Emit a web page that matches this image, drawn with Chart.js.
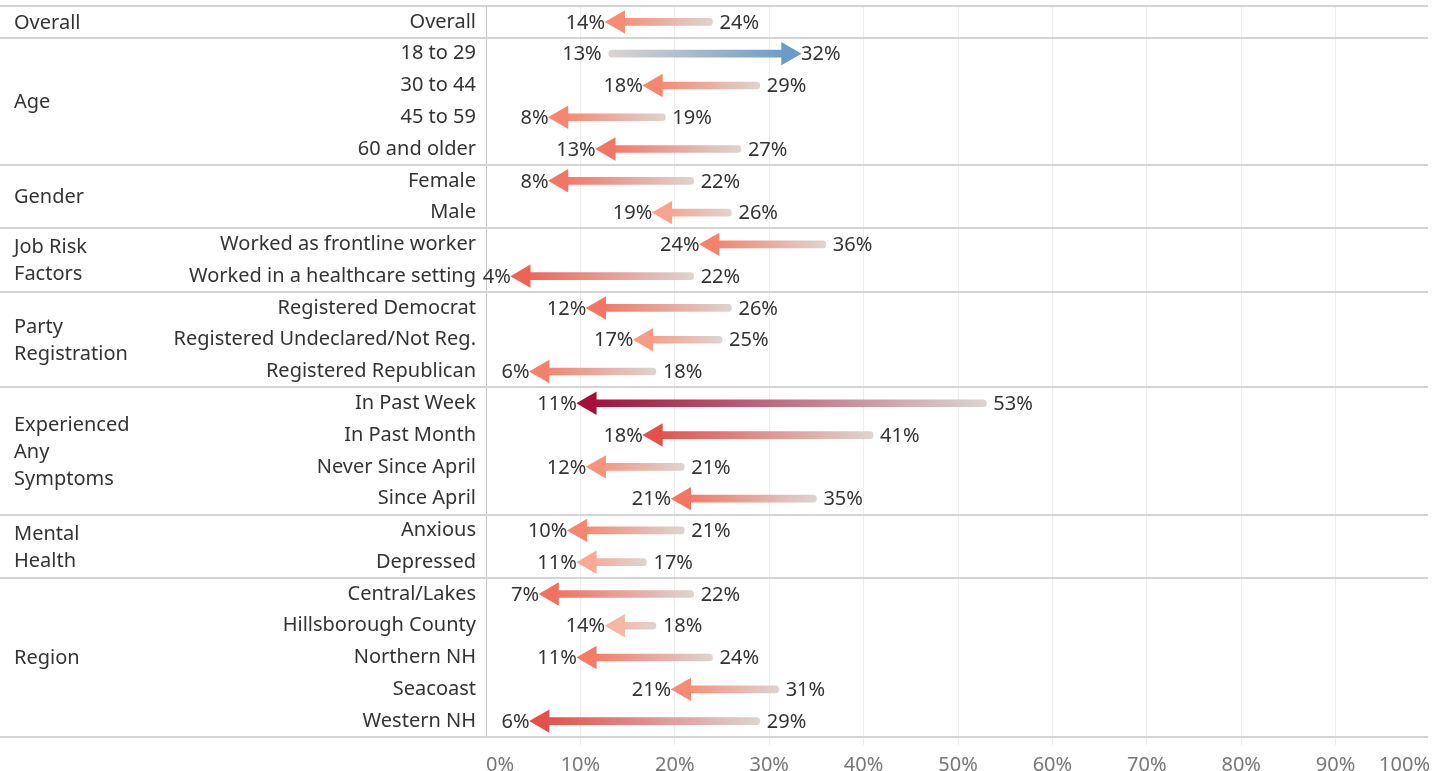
<!DOCTYPE html>
<html lang="en">

<head>
    <meta charset="UTF-8">
    <title>Change by group</title>
    <script src="https://cdn.jsdelivr.net/npm/chart.js"></script>
    <style>
        body { margin: 0; background: #fff; }
        .wrap { width: 1440px; height: 771px; }
    </style>
</head>

<body>
    <div class="wrap">
        <canvas id="arrowChart"></canvas>
    </div>

    <script>
        // rows (y axis)
        const rows = ['Overall', '18 to 29', '30 to 44', '45 to 59', '60 and older', 'Female', 'Male',
            'Worked as frontline worker', 'Worked in a healthcare setting',
            'Registered Democrat', 'Registered Undeclared/Not Reg.', 'Registered Republican',
            'In Past Week', 'In Past Month', 'Never Since April', 'Since April',
            'Anxious', 'Depressed',
            'Central/Lakes', 'Hillsborough County', 'Northern NH', 'Seacoast', 'Western NH'];

        // groups: name lines, first row, last row
        const groupNames = [['Overall'], ['Age'], ['Gender'], ['Job Risk', 'Factors'], ['Party', 'Registration'],
            ['Experienced', 'Any', 'Symptoms'], ['Mental', 'Health'], ['Region']];
        const groupStart = [0, 1, 5, 7, 9, 12, 16, 18];
        const groupEnd = [0, 4, 6, 8, 11, 15, 17, 22];

        // values (share of respondents)
        const before = [0.24, 0.13, 0.29, 0.19, 0.27, 0.22, 0.26, 0.36, 0.22, 0.26, 0.25, 0.18,
            0.53, 0.41, 0.21, 0.35, 0.21, 0.17, 0.22, 0.18, 0.24, 0.31, 0.29];
        const after = [0.14, 0.32, 0.18, 0.08, 0.13, 0.08, 0.19, 0.24, 0.04, 0.12, 0.17, 0.06,
            0.11, 0.18, 0.12, 0.21, 0.10, 0.11, 0.07, 0.14, 0.11, 0.21, 0.06];

        const xTicks = [0, 0.1, 0.2, 0.3, 0.4, 0.5, 0.6, 0.7, 0.8, 0.9, 1];

        const FONT = '"Noto Sans", sans-serif';
        const FS = 20;
        const startGrey = '#ddd4d1';

        // diverging colour by change (percentage points)
        const redStops = [[0, [221, 212, 209]], [-5, [252, 176, 157]], [-10, [247, 140, 116]], [-15, [241, 112, 95]],
            [-20, [235, 90, 80]], [-25, [224, 72, 72]], [-42, [165, 15, 58]]];
        function changeColor(i) {
            const d = Math.round((after[i] - before[i]) * 100);
            if (d > 0) return '#6b9cc7';
            for (let k = 1; k < redStops.length; k++) {
                const [d0, c0] = redStops[k - 1], [d1, c1] = redStops[k];
                if (d >= d1) {
                    const t = (d - d0) / (d1 - d0);
                    const c = c0.map((v, j) => Math.round(v + (c1[j] - v) * t));
                    return 'rgb(' + c.join(',') + ')';
                }
            }
            return 'rgb(165,15,58)';
        }

        const pct = v => Math.round(v * 100) + '%';

        const decorations = {
            id: 'decorations',
            beforeDatasetsDraw(chart) {
                const { ctx, scales: { y } } = chart;
                ctx.save();
                ctx.strokeStyle = '#d4d4d4';
                ctx.lineWidth = 2;
                const half = (y.getPixelForValue(1) - y.getPixelForValue(0)) / 2;
                groupStart.forEach((s, g) => {
                    const yy = Math.round(y.getPixelForValue(s) - half);
                    ctx.beginPath(); ctx.moveTo(0, yy); ctx.lineTo(1428, yy); ctx.stroke();
                });
                const yb = Math.round(y.getPixelForValue(rows.length - 1) + half);
                ctx.beginPath(); ctx.moveTo(0, yb); ctx.lineTo(1428, yb); ctx.stroke();
                ctx.restore();
            },
            afterDatasetsDraw(chart) {
                const { ctx, scales: { x, y } } = chart;
                ctx.save();
                ctx.font = FS + 'px ' + FONT;
                ctx.fillStyle = '#333';
                ctx.textBaseline = 'middle';
                // value labels
                rows.forEach((r, i) => {
                    const yy = y.getPixelForValue(i) + 1;
                    const x0 = x.getPixelForValue(before[i]);
                    const x1 = x.getPixelForValue(after[i]);
                    const down = after[i] < before[i];
                    ctx.textAlign = down ? 'left' : 'right';
                    ctx.fillText(pct(before[i]), x0 + (down ? 7 : -7), yy);
                    ctx.textAlign = down ? 'right' : 'left';
                    ctx.fillText(pct(after[i]), x1 + (down ? -13 : 13), yy);
                });
                // group labels
                ctx.textAlign = 'left';
                groupNames.forEach((lines, g) => {
                    const mid = (y.getPixelForValue(groupStart[g]) + y.getPixelForValue(groupEnd[g])) / 2;
                    const lh = 27;
                    lines.forEach((t, k) => {
                        ctx.fillText(t, 14, mid + (k - (lines.length - 1) / 2) * lh + 1);
                    });
                });
                ctx.restore();
            }
        };

        new Chart(document.getElementById('arrowChart'), {
            type: 'bar',
            data: {
                labels: rows,
                datasets: [{
                    type: 'bar',
                    indexAxis: 'y',
                    order: 2,
                    data: rows.map((r, i) => [before[i], after[i]]),
                    barThickness: 7,
                    borderRadius: 3.5,
                    borderSkipped: false,
                    backgroundColor: function (c) {
                        const chart = c.chart;
                        if (c.dataIndex === undefined || !chart.chartArea) return startGrey;
                        const x = chart.scales.x;
                        const x0 = x.getPixelForValue(before[c.dataIndex]);
                        const x1 = x.getPixelForValue(after[c.dataIndex]);
                        const g = chart.ctx.createLinearGradient(x0, 0, x1, 0);
                        g.addColorStop(0, startGrey);
                        g.addColorStop(1, changeColor(c.dataIndex));
                        return g;
                    }
                }, {
                    type: 'line',
                    indexAxis: 'y',
                    order: 1,
                    data: after,
                    showLine: false,
                    pointStyle: 'triangle',
                    pointRadius: 13.5,
                    pointBorderWidth: 0,
                    pointBorderColor: 'rgba(0,0,0,0)',
                    pointRotation: c => (after[c.dataIndex] < before[c.dataIndex] ? -90 : 90),
                    pointBackgroundColor: c => changeColor(c.dataIndex)
                }]
            },
            options: {
                indexAxis: 'y',
                responsive: true,
                maintainAspectRatio: false,
                animation: false,
                layout: { autoPadding: false, padding: { top: 6, right: 10, left: 0, bottom: 0 } },
                plugins: {
                    legend: { display: false },
                    tooltip: { enabled: false }
                },
                scales: {
                    x: {
                        type: 'linear',
                        min: 0,
                        max: 1,
                        afterBuildTicks: s => { s.ticks = xTicks.map(v => ({ value: v })); },
                        afterFit: s => { s.height = 34; s.paddingLeft = 0; s.paddingRight = 0; },
                        ticks: {
                            callback: v => pct(v),
                            align: 'inner',
                            color: '#777',
                            padding: 8,
                            font: { family: FONT, size: FS }
                        },
                        grid: {
                            color: c => (c.index === 0 || c.index === 10 ? 'rgba(0,0,0,0)' : '#ededed'),
                            tickLength: 8,
                            lineWidth: 1
                        },
                        border: { display: false }
                    },
                    y: {
                        type: 'category',
                        offset: true,
                        afterFit: s => { s.width = 486; s.paddingTop = 0; s.paddingBottom = 0; },
                        ticks: {
                            color: '#333',
                            padding: 10,
                            font: { family: FONT, size: FS }
                        },
                        grid: { display: false, drawTicks: false },
                        border: { display: true, color: '#c4c4c4', dash: [3, 3], width: 1 }
                    }
                }
            },
            plugins: [decorations]
        });
    </script>
</body>

</html>
